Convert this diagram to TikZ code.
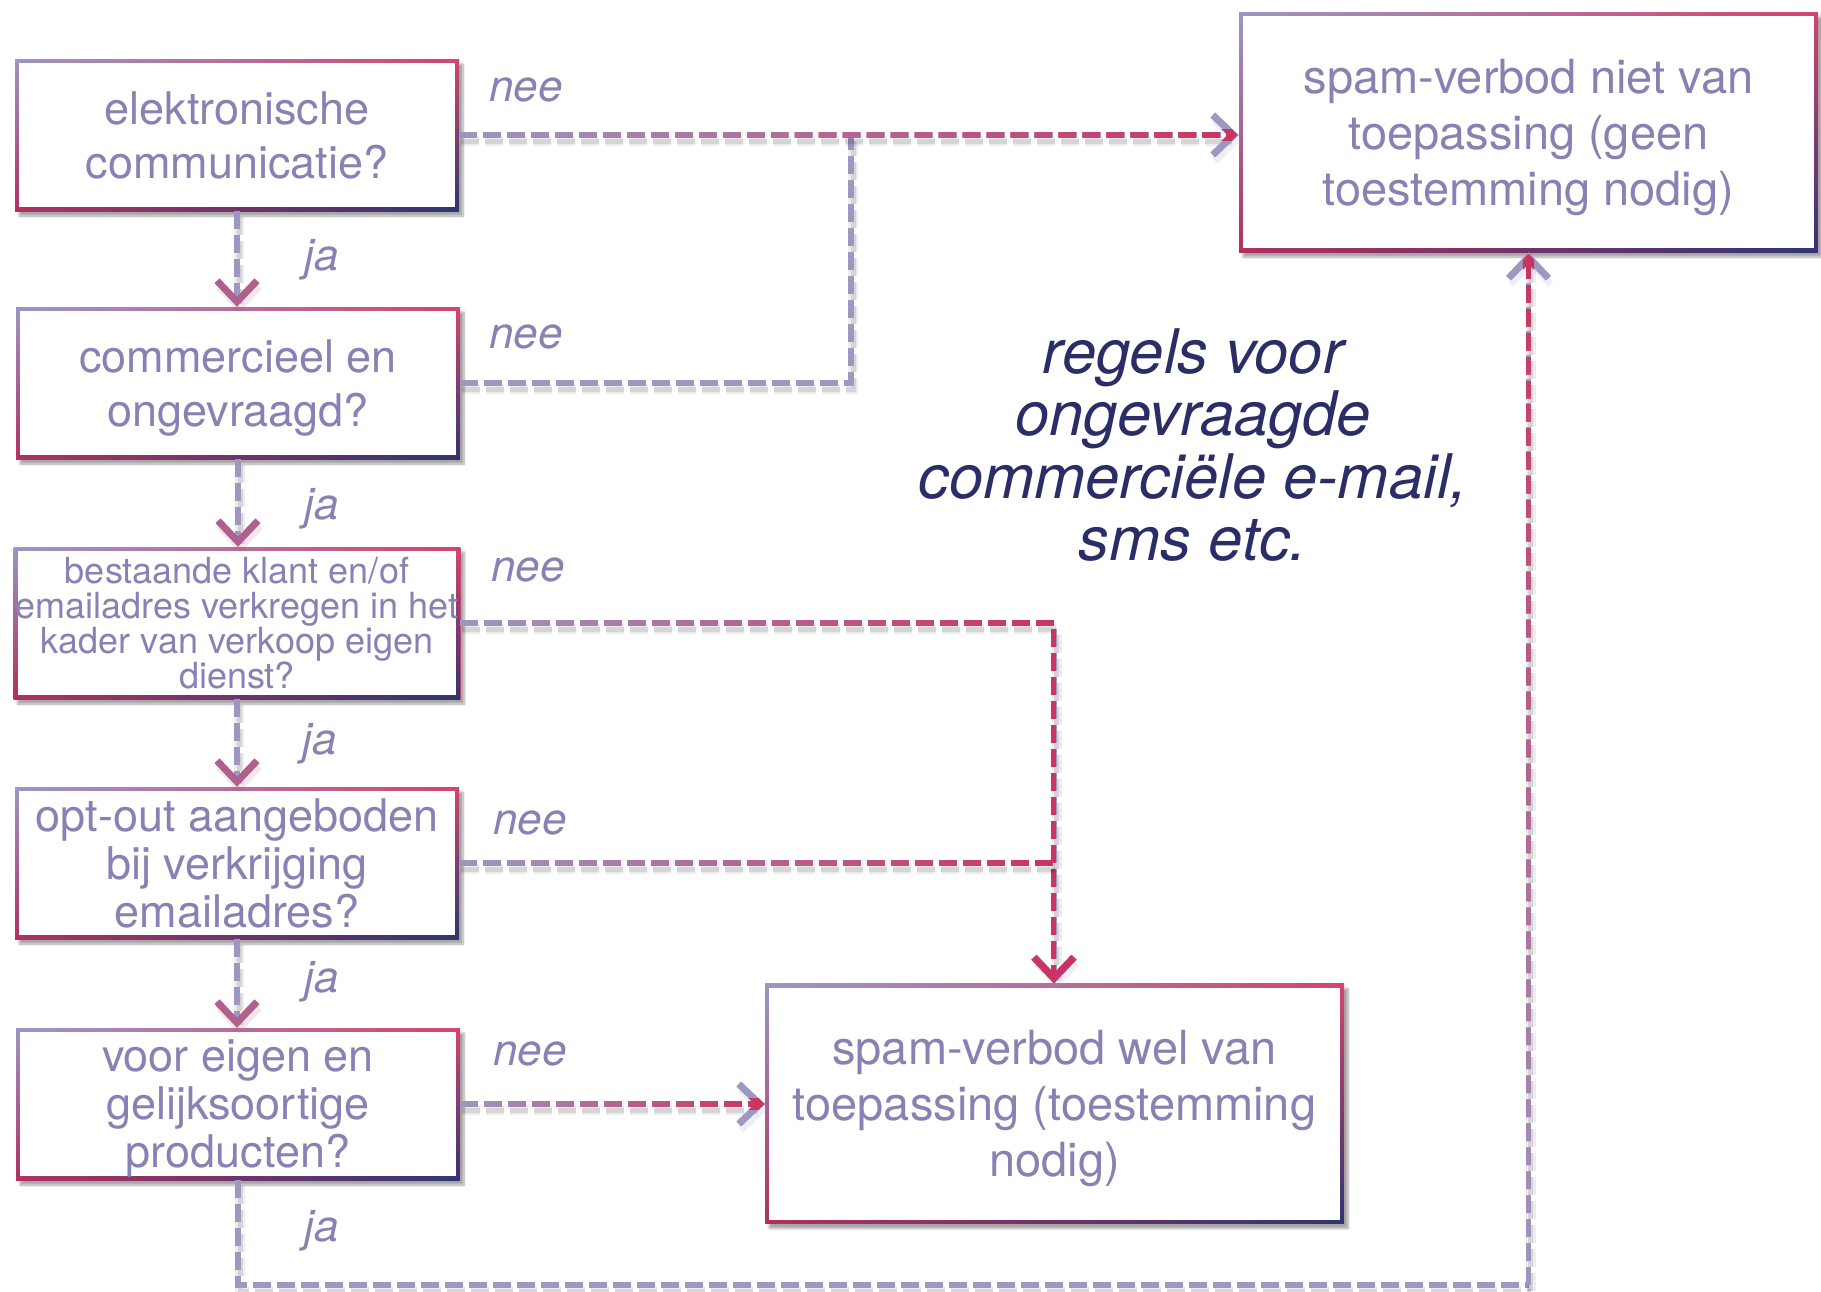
\documentclass[tikz,border=0pt]{standalone}
\usepackage{fontspec}
\setmainfont{TeX Gyre Heros}
\usetikzlibrary{arrows.meta,fadings,shadows.blur,calc}
\definecolor{lav}{HTML}{9D97C2}
\definecolor{txt}{HTML}{8882B4}
\definecolor{crim}{HTML}{CB3362}
\definecolor{mauve}{HTML}{B0608C}
\definecolor{navy}{HTML}{2B2E66}
\definecolor{bl}{HTML}{9C97C4}
\definecolor{btr}{HTML}{D4466F}
\definecolor{bbl}{HTML}{B32F60}
\definecolor{bn}{HTML}{2E3573}
\tikzfading[name=fadein, left color=transparent!100, right color=transparent!0]
\tikzfading[name=fadeup, bottom color=transparent!100, top color=transparent!0]
\tikzfading[name=fadedown, top color=transparent!100, bottom color=transparent!0]
\tikzset{
  qbox/.style={minimum width=444pt, minimum height=152pt, inner sep=2pt, align=center,
    text=txt, font=\fontsize{45}{54}\selectfont, fill=white, text depth=0pt,
    blur shadow={shadow xshift=4pt, shadow yshift=-5pt, shadow opacity=35, shadow blur steps=8},
    path picture={
      \shade[left color=bl, right color=btr] (path picture bounding box.south west) rectangle (path picture bounding box.north east);
      \shade[left color=bbl, right color=bn, path fading=fadedown] (path picture bounding box.south west) rectangle (path picture bounding box.north east);
      \fill[white] ($(path picture bounding box.south west)+(4pt,4pt)$) rectangle ($(path picture bounding box.north east)+(-4pt,-4pt)$);}},
  rbox/.style={qbox, minimum width=579pt, minimum height=240pt, font=\fontsize{47}{56}\selectfont},
  lshadow/.style={preaction={draw=black, opacity=0.07, line width=10pt, dash pattern=on 18pt off 6pt, transform canvas={shift={(2pt,-6pt)}}},
                  preaction={draw=black, opacity=0.10, line width=5pt, dash pattern=on 18pt off 6pt, transform canvas={shift={(2pt,-6pt)}}}},
  ln/.style={line width=5.5pt, dash pattern=on 18pt off 6pt, lav},
  tipL/.style={-{Straight Barb[length=21pt,width=40pt,line width=7pt,color=lav]}},
  tipM/.style={-{Straight Barb[length=21pt,width=40pt,line width=7pt,color=mauve]}},
  tipC/.style={-{Straight Barb[length=21pt,width=40pt,line width=7pt,color=crim]}},
  ovl/.style={ln, crim, path fading=fadein, tipC},
  lbl/.style={font=\itshape\fontsize{44}{44}\selectfont, text=txt}
}
\begin{document}
\begin{tikzpicture}[x=1pt,y=-1pt]
\useasboundingbox (0,0) rectangle (1821,1291);
\coordinate (j1) at (851,135);
\coordinate (bot) at (1528.5,1285);
\node[qbox] (b1) at (237,135) {elektronische\\communicatie?};
\node[qbox] (b2) at (238,383) {commercieel en\\ongevraagd?};
\node[qbox, font=\fontsize{36}{35}\selectfont] (b3) at (237,623) {bestaande klant en/of\\emailadres verkregen in het\\kader van verkoop eigen\\dienst?};
\node[qbox, font=\fontsize{45}{48}\selectfont] (b4) at (237,863) {opt-out aangeboden\\bij verkrijging\\emailadres?};
\node[qbox, font=\fontsize{45}{48}\selectfont] (b5) at (238,1104) {voor eigen en\\gelijksoortige\\producten?};
\node[rbox] (tr) at (1528.5,132) {spam-verbod niet van\\toepassing (geen\\toestemming nodig)};
\node[rbox] (bb) at (1054.5,1103.5) {spam-verbod wel van\\toepassing (toestemming\\nodig)};
\node[font=\itshape\fontsize{61.5}{62.5}\selectfont, text=navy, align=center] (rg) at (1193,445) {regels voor\\ongevraagde\\commerciële e-mail,\\sms etc.};
% vertical ja arrows
\draw[ln, lshadow, tipM] (b1.south) -- (b1.south |- b2.north);
\draw[ln, lshadow, tipM] (b2.south) -- (b2.south |- b3.north);
\draw[ln, lshadow, tipM] (b3.south) -- (b3.south |- b4.north);
\draw[ln, lshadow, tipM] (b4.south) -- (b4.south |- b5.north);
% nee routes
\draw[ln, lshadow] (b2.east) -| (j1);
\draw[ln, lshadow, tipL] (b1.east) -- (b1.east -| tr.west);
\draw[ovl] (b1.east) -- (b1.east -| tr.west);
\draw[ln, lshadow, tipL] (b3.east) -| (bb.north);
\draw[ovl] (b3.east) -| (bb.north);
\draw[ln, lshadow] (b4.east) -- (b4.east -| bb.north);
\draw[ln, crim, path fading=fadein] (b4.east) -- (b4.east -| bb.north);
\draw[ln, lshadow, tipL] (b5.east) -- (b5.east -| bb.west);
\draw[ovl] (b5.east) -- (b5.east -| bb.west);
% ja route from last box
\draw[ln, lshadow] (b5.south) |- (bot);
\draw[ln, lshadow, tipL] (bot) -- (tr.south);
\draw[ln, crim, path fading=fadeup, tipC] (bot) -- (tr.south);
% labels
\node[lbl] (n1) at (526,90) {nee};
\node[lbl] (n2) at (526,337) {nee};
\node[lbl] (n3) at (528,570) {nee};
\node[lbl] (n4) at (530,823) {nee};
\node[lbl] (n5) at (530,1054) {nee};
\node[lbl] (y1) at (322,260) {ja};
\node[lbl] (y2) at (322,509) {ja};
\node[lbl] (y3) at (320,744) {ja};
\node[lbl] (y4) at (322,982) {ja};
\node[lbl] (y5) at (322,1231) {ja};
\end{tikzpicture}
\end{document}
